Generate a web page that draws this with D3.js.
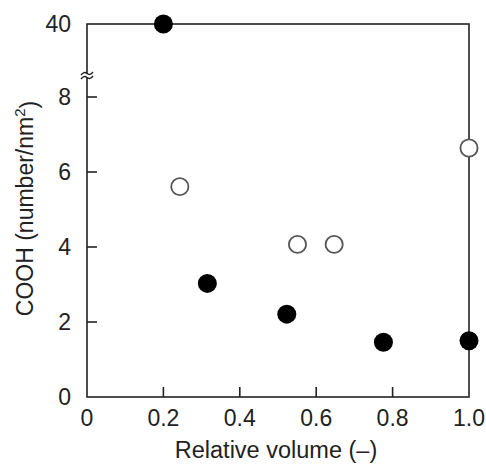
<!DOCTYPE html>
<html>
<head>
<meta charset="utf-8">
<script src="https://cdnjs.cloudflare.com/ajax/libs/d3/7.8.5/d3.min.js"></script>
<style>
	html, body {margin: 0; padding: 0; background: #fff;}
	text {font-family: "Liberation Sans", Arial, sans-serif; fill: #222;}
</style>
</head>
<body>
<div id="chart"></div>
<script>
// DATA
var filledVolume = [0.2, 0.315, 0.523, 0.776, 1.0];
var filledCooh = [40, 3.03, 2.21, 1.46, 1.5];
var openVolume = [0.243, 0.551, 0.647, 1.0];
var openCooh = [5.61, 4.07, 4.07, 6.64];
var xTicks = [0, 0.2, 0.4, 0.6, 0.8, 1.0];
var xTickLabels = ["0", "0.2", "0.4", "0.6", "0.8", "1.0"];
var yTicks = [0, 2, 4, 6, 8, 40];

var WIDTH = 486, HEIGHT = 467;
var LEFT = 87, RIGHT = 469, TOP = 24, BOTTOM = 397;
var LINE = "#222";
var TICK = 10;

var svg = d3.select("#chart").append("svg")
	.attr("width", WIDTH)
	.attr("height", HEIGHT);

var x = d3.scaleLinear().domain([0, 1]).range([LEFT, RIGHT]);
//BROKEN AXIS: 0..8 IS LINEAR, THEN JUMP TO 40 AT THE TOP
var y = d3.scaleLinear().domain([0, 8, 40]).range([BOTTOM, 97, TOP]);

//FRAME
svg.append("rect")
	.attr("x", x(0))
	.attr("y", y(40))
	.attr("width", x(1) - x(0))
	.attr("height", y(0) - y(40))
	.attr("fill", "none")
	.attr("stroke", LINE)
	.attr("stroke-width", 1.6);

//X TICKS (INWARD)
svg.selectAll(".xtick")
	.data(xTicks.slice(1, -1))
	.enter().append("line")
	.attr("x1", function(d){return x(d);})
	.attr("x2", function(d){return x(d);})
	.attr("y1", BOTTOM)
	.attr("y2", BOTTOM - TICK)
	.attr("stroke", LINE)
	.attr("stroke-width", 1.6);

svg.selectAll(".xlab")
	.data(xTicks)
	.enter().append("text")
	.attr("x", function(d){return x(d);})
	.attr("y", BOTTOM + 28.5)
	.attr("text-anchor", "middle")
	.style("font-size", "23px")
	.text(function(d, i){return xTickLabels[i];});

//Y TICKS (INWARD), NONE AT 0 OR 40
svg.selectAll(".ytick")
	.data(yTicks.filter(function(d){return d > 0 && d < 40;}))
	.enter().append("line")
	.attr("x1", LEFT)
	.attr("x2", LEFT + TICK)
	.attr("y1", function(d){return y(d);})
	.attr("y2", function(d){return y(d);})
	.attr("stroke", LINE)
	.attr("stroke-width", 1.6);

svg.selectAll(".ylab")
	.data(yTicks)
	.enter().append("text")
	.attr("x", LEFT - 16)
	.attr("y", function(d){return y(d);})
	.attr("dy", "0.36em")
	.attr("text-anchor", "end")
	.style("font-size", "23px")
	.text(function(d){return d;});

//AXIS BREAK MARK
var by = y(8) - 21;
svg.append("rect")
	.attr("x", LEFT - 2).attr("y", by - 2)
	.attr("width", 4).attr("height", 4)
	.attr("fill", "#fff");
[-2, 2].forEach(function(off){
	svg.append("path")
		.attr("d", "M" + (LEFT - 6) + "," + (by + off + 1) +
			" q3,-4 6,-1.5 t6,-1.5")
		.attr("fill", "none")
		.attr("stroke", LINE)
		.attr("stroke-width", 1.4);
});

//TITLES
svg.append("text")
	.attr("x", (LEFT + RIGHT) / 2 - 2)
	.attr("y", 458)
	.attr("text-anchor", "middle")
	.style("font-size", "23.5px")
	.text("Relative volume (\u2013)");

var yt = svg.append("text")
	.attr("transform", "translate(33," + ((TOP + BOTTOM) / 2 - 2) + ") rotate(-90)")
	.attr("text-anchor", "middle")
	.style("font-size", "23px");
yt.append("tspan").text("COOH (number/nm");
yt.append("tspan").attr("dy", "-0.55em").style("font-size", "15px").text("2");
yt.append("tspan").attr("dy", "0.55em").text(")");

//POINTS
svg.selectAll(".open")
	.data(openVolume)
	.enter().append("circle")
	.attr("cx", function(d){return x(d);})
	.attr("cy", function(d, i){return y(openCooh[i]);})
	.attr("r", 8.6)
	.attr("fill", "#fff")
	.attr("stroke", "#555")
	.attr("stroke-width", 1.8);

svg.selectAll(".filled")
	.data(filledVolume)
	.enter().append("circle")
	.attr("cx", function(d){return x(d);})
	.attr("cy", function(d, i){return y(filledCooh[i]);})
	.attr("r", 9.5)
	.attr("fill", "#000");
</script>
</body>
</html>
